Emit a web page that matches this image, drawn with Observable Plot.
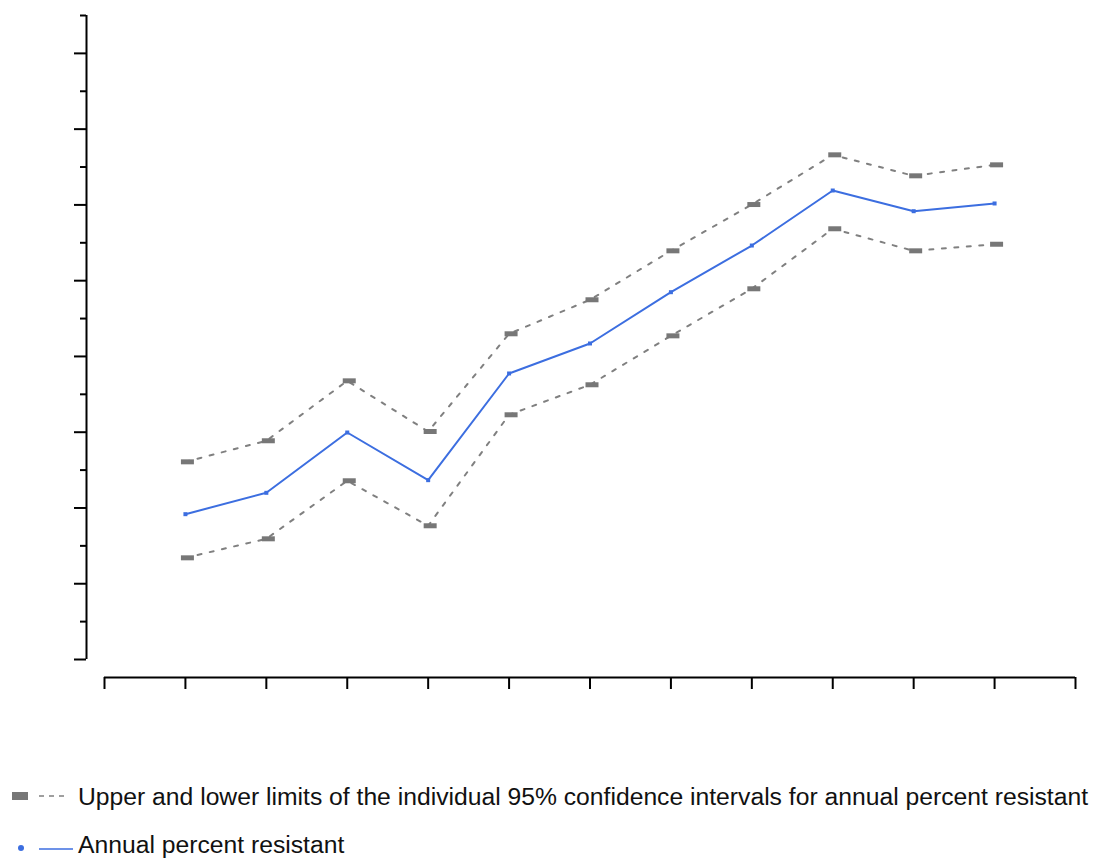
<!DOCTYPE html>
<html><head><meta charset="utf-8">
<script src="https://cdn.jsdelivr.net/npm/d3@7"></script>
<script src="https://cdn.jsdelivr.net/npm/@observablehq/plot@0.6"></script>
<style>body{margin:0;background:#fff} #chart svg{display:block}</style>
</head><body><div id="chart"></div>
<script>
const periods = [1, 2, 3, 4, 5, 6, 7, 8, 9, 10, 11];
const annualPercent = [19.18, 22.0, 29.96, 23.67, 37.75, 41.71, 48.48, 54.64, 61.9, 59.17, 60.19];
const upperLimit = [26.09, 28.87, 36.78, 30.09, 42.99, 47.48, 53.94, 60.05, 66.61, 63.84, 65.29];
const lowerLimit = [13.42, 15.93, 23.59, 17.65, 32.3, 36.26, 42.72, 48.93, 56.85, 53.94, 54.81];
const yMajorTicks = [0, 10, 20, 30, 40, 50, 60, 70, 80];
const yMinorTicks = [5, 15, 25, 35, 45, 55, 65, 75, 85];
const xTicks = [0, 1, 2, 3, 4, 5, 6, 7, 8, 9, 10, 11, 12];
const legendLabels = [
  "Upper and lower limits of the individual 95% confidence intervals for annual percent resistant",
  "Annual percent resistant"
];

const blue = "#3c6ee0";
const upper = periods.map((p, i) => ({period: p, value: upperLimit[i]}));
const lower = periods.map((p, i) => ({period: p, value: lowerLimit[i]}));
const annual = periods.map((p, i) => ({period: p, value: annualPercent[i]}));
const grayBar = {draw(ctx) { ctx.rect(-6.5, -2.5, 13, 5); }};
const blueSquare = {draw(ctx) { ctx.rect(-2, -2, 4, 4); }};

const chart = Plot.plot({
  width: 1093, height: 770,
  marginTop: 15, marginBottom: 111, marginLeft: 104, marginRight: 18,
  x: {domain: [0, 12], axis: null},
  y: {domain: [0, 85], axis: null},
  style: {background: "#fff", overflow: "visible"},
  marks: [
    Plot.ruleX([0], {dx: -18, stroke: "#000", strokeWidth: 2}),
    Plot.axisY(yMajorTicks, {anchor: "left", tickSize: 12, dx: -18, tickFormat: () => "", strokeWidth: 2, stroke: "#000", label: null}),
    Plot.axisY(yMinorTicks, {anchor: "left", tickSize: 6, dx: -18, tickFormat: () => "", strokeWidth: 2, stroke: "#000", label: null}),
    Plot.ruleY([0], {dy: 18, stroke: "#000", strokeWidth: 2}),
    Plot.axisX(xTicks, {anchor: "bottom", tickSize: 12, dy: 18, tickFormat: () => "", strokeWidth: 2, stroke: "#000", label: null}),
    Plot.line(upper, {x: "period", y: "value", stroke: "#808080", strokeWidth: 2, strokeDasharray: "4,8.5"}),
    Plot.line(lower, {x: "period", y: "value", stroke: "#808080", strokeWidth: 2, strokeDasharray: "4,8.5"}),
    Plot.dot(upper, {x: "period", y: "value", symbol: grayBar, fill: "#777", stroke: "none", dx: 2}),
    Plot.dot(lower, {x: "period", y: "value", symbol: grayBar, fill: "#777", stroke: "none", dx: 2}),
    Plot.line(annual, {x: "period", y: "value", stroke: blue, strokeWidth: 2}),
    Plot.dot(annual, {x: "period", y: "value", symbol: blueSquare, fill: blue, stroke: "none"})
  ]
});
document.getElementById("chart").appendChild(chart);

// Legend below the chart
const leg = d3.select("#chart").append("svg").attr("width", 1093).attr("height", 89).style("display", "block");
leg.append("rect").attr("x", 12).attr("y", 22).attr("width", 16).attr("height", 8).attr("fill", "#777");
leg.append("line").attr("x1", 39).attr("x2", 68).attr("y1", 26).attr("y2", 26)
  .attr("stroke", "#808080").attr("stroke-width", 1.5).attr("stroke-dasharray", "5,5");
leg.append("circle").attr("cx", 21).attr("cy", 78).attr("r", 3).attr("fill", blue);
leg.append("line").attr("x1", 39).attr("x2", 73).attr("y1", 79).attr("y2", 79)
  .attr("stroke", blue).attr("stroke-width", 1.5);
leg.selectAll("text").data(legendLabels).join("text")
  .attr("x", 78).attr("y", (d, i) => i === 0 ? 35 : 83)
  .attr("font-family", "'Liberation Sans', Arial, sans-serif")
  .attr("font-size", 24.7).attr("fill", "#111")
  .text(d => d);
</script>
</body></html>
